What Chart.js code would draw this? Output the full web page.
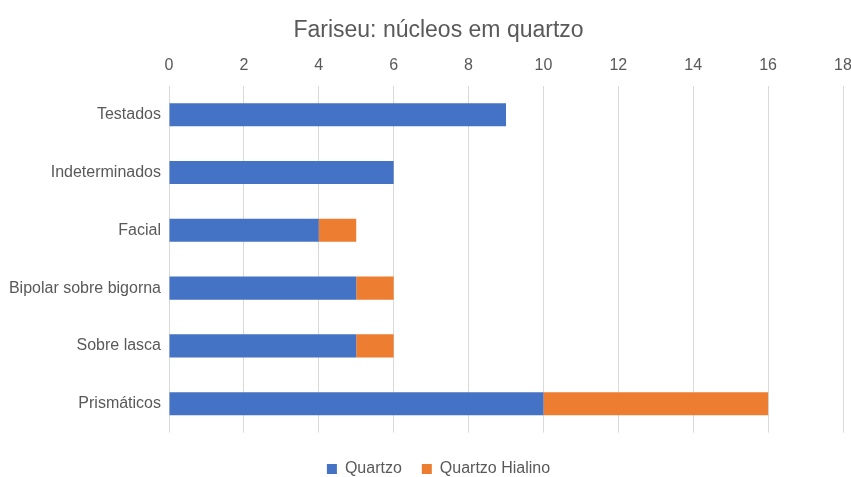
<!DOCTYPE html>
<html>
<head>
<meta charset="utf-8">
<script src="https://cdn.jsdelivr.net/npm/chart.js@4"></script>
<style>
  html, body { margin: 0; padding: 0; background: #fff; }
  #wrap { width: 851px; height: 477px; }
</style>
</head>
<body>
<div id="wrap"><canvas id="chart"></canvas></div>
<script>
const categories = ['Testados', 'Indeterminados', 'Facial', 'Bipolar sobre bigorna', 'Sobre lasca', 'Prismáticos'];
const quartzo = [9, 6, 4, 5, 5, 10];
const quartzoHialino = [0, 0, 1, 1, 1, 6];

const grey = '#595959';
const font = 'Liberation Sans';

const data = {
    labels: categories,
    datasets: [
        { label: 'Quartzo', data: quartzo, backgroundColor: '#4472c4', barPercentage: 0.4, categoryPercentage: 1 },
        { label: 'Quartzo Hialino', data: quartzoHialino, backgroundColor: '#ed7d31', barPercentage: 0.4, categoryPercentage: 1 }
    ]
}

const options = {
    indexAxis: 'y',
    responsive: true,
    maintainAspectRatio: false,
    animation: false,
    // negative right/bottom only move the title and legend, the plot area is set by the axes
    layout: { padding: { left: 6, right: -20, top: 0, bottom: -10 } },
    plugins: {
        title: {
            display: true,
            text: 'Fariseu: núcleos em quartzo',
            color: grey,
            font: { family: font, size: 23, weight: 'normal' },
            padding: { top: 17, bottom: 0 }
        },
        legend: {
            position: 'bottom',
            // empty title, only used as a spacer above the items
            title: { display: true, text: '', font: { size: 7 }, padding: 0 },
            labels: {
                color: grey,
                boxWidth: 10,
                boxHeight: 10,
                font: { family: font, size: 16 },
                padding: 20
            }
        },
        tooltip: { enabled: false }
    },
    scales: {
        x: {
            position: 'top',
            stacked: true,
            min: 0,
            max: 18,
            ticks: { stepSize: 2, color: grey, font: { family: font, size: 16 }, padding: 11 },
            grid: { color: '#d9d9d9', drawTicks: false },
            border: { display: false },
            afterFit: function (axis) { axis.paddingRight = 8 }
        },
        y: {
            stacked: true,
            ticks: { color: grey, font: { family: font, size: 16 }, padding: 8 },
            grid: { display: false, drawTicks: false },
            border: { display: false },
            afterFit: function (axis) { axis.width = 163 }
        }
    }
}

new Chart('chart', { type: 'bar', data, options })
</script>
</body>
</html>
